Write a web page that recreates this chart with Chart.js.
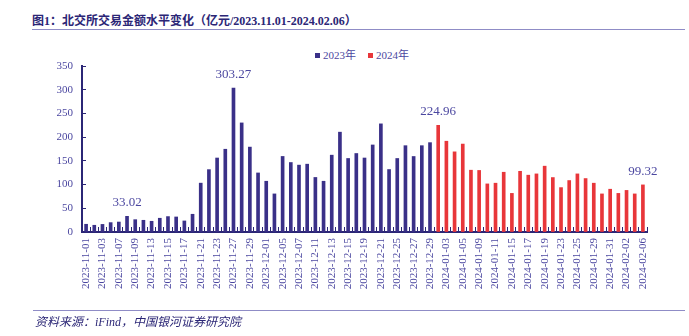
<!DOCTYPE html>
<html>
<head>
<meta charset="utf-8">
<script src="https://cdn.jsdelivr.net/npm/chart.js@4.4.0/dist/chart.umd.min.js"></script>
<style>
body{margin:0;background:#fff;width:689px;height:336px;position:relative;overflow:hidden;}
#title{position:absolute;left:32px;top:11px;font:bold 12px "Liberation Serif","Noto Sans CJK SC";color:#2b2676;white-space:nowrap;}
#topline{position:absolute;left:32px;width:653px;top:29px;height:1px;background:#8f8cc6;}
#botline{position:absolute;left:33px;width:652px;top:310px;height:1px;background:#8f8cc6;}
#source{position:absolute;left:35px;top:312px;font:italic 12px "Liberation Serif","Noto Sans CJK SC";color:#2b2676;white-space:nowrap;}
#legend{position:absolute;left:315px;top:46px;font:11px "Liberation Serif","Noto Sans CJK SC";color:#4b47a0;white-space:nowrap;}
#legend span.sq{display:inline-block;width:5px;height:5px;margin-right:3px;vertical-align:1px;}
#chart{position:absolute;left:0;top:0;}
</style>
</head>
<body>
<div id="title">图1：北交所交易金额水平变化（亿元/2023.11.01-2024.02.06）</div>
<div id="topline"></div>
<div id="legend"><span class="sq" style="background:#3a3088"></span>2023年<span class="sq" style="background:#e8363a;margin-left:12px"></span>2024年</div>
<canvas id="chart" width="689" height="336"></canvas>
<div id="botline"></div>
<div id="source">资料来源：iFind，中国银河证券研究院</div>
<script>
var dates2023 = ["2023-11-01","2023-11-02","2023-11-03","2023-11-06","2023-11-07","2023-11-08","2023-11-09","2023-11-10",
  "2023-11-13","2023-11-14","2023-11-15","2023-11-16","2023-11-17","2023-11-20","2023-11-21","2023-11-22","2023-11-23",
  "2023-11-24","2023-11-27","2023-11-28","2023-11-29","2023-11-30","2023-12-01","2023-12-04","2023-12-05","2023-12-06",
  "2023-12-07","2023-12-08","2023-12-11","2023-12-12","2023-12-13","2023-12-14","2023-12-15","2023-12-18","2023-12-19",
  "2023-12-20","2023-12-21","2023-12-22","2023-12-25","2023-12-26","2023-12-27","2023-12-28","2023-12-29"];
var values2023 = [16.3,14.2,16,19.8,21,33.02,26,24.7,22.6,29,32.5,31.7,23.3,37.4,103,131.5,156,174.5,303.27,230,179,124.5,
  107,80.3,159.3,146.5,141,143,115,107,162,210.5,155,165.5,156,183.5,228,131.7,155,182,159.2,182,188.4];
var dates2024 = ["2024-01-02","2024-01-03","2024-01-04","2024-01-05","2024-01-08","2024-01-09","2024-01-10","2024-01-11",
  "2024-01-12","2024-01-15","2024-01-16","2024-01-17","2024-01-18","2024-01-19","2024-01-22","2024-01-23","2024-01-24",
  "2024-01-25","2024-01-26","2024-01-29","2024-01-30","2024-01-31","2024-02-01","2024-02-02","2024-02-05","2024-02-06"];
var values2024 = [224.96,191.4,169,185.4,130.3,129.8,101.4,102.9,126,81.4,128,119.8,122.5,138.8,114.8,93.6,108.5,122.5,
  112.7,102.9,80.3,90.2,81.4,87.7,80.3,99.32];
// bars that carry a value label
var labelled = ["2023-11-08","2023-11-27","2024-01-02","2024-02-06"];

var labels = dates2023.concat(dates2024);
var set2023 = values2023.concat(dates2024.map(function(){ return null; }));
var set2024 = dates2023.map(function(){ return null; }).concat(values2024);

var navy = '#2b2676';
var tickColor = '#4b47a0';

var valueLabels = {
  id: 'valueLabels',
  afterDatasetsDraw: function(chart) {
    var ctx = chart.ctx;
    ctx.save();
    ctx.font = '13px "Liberation Serif"';
    ctx.fillStyle = '#4b47a0';
    ctx.textAlign = 'center';
    ctx.textBaseline = 'alphabetic';
    labelled.forEach(function(d) {
      var i = labels.indexOf(d);
      chart.data.datasets.forEach(function(ds, k) {
        if (ds.data[i] == null) return;
        var bar = chart.getDatasetMeta(k).data[i];
        ctx.fillText(ds.data[i].toFixed(2), bar.x, bar.y - 10);
      });
    });
    ctx.restore();
  }
};

new Chart(document.getElementById('chart').getContext('2d'), {
  type: 'bar',
  data: {
    labels: labels,
    datasets: [
      { label: '2023年', data: set2023, backgroundColor: '#3a3088', barThickness: 3, grouped: false },
      { label: '2024年', data: set2024, backgroundColor: '#e8363a', barThickness: 3, grouped: false }
    ]
  },
  options: {
    responsive: false,
    animation: false,
    layout: { padding: { top: 66, right: 42, left: 0, bottom: 0 } },
    plugins: { legend: { display: false }, tooltip: { enabled: false } },
    scales: {
      x: {
        afterFit: function(s) { s.height = 104; },
        border: { display: true, color: navy, width: 2 },
        grid: { drawOnChartArea: false, color: navy, tickLength: -5, lineWidth: 1 },
        ticks: {
          autoSkip: false, minRotation: 90, maxRotation: 90, padding: 11,
          color: tickColor, font: { family: 'Liberation Serif', size: 11 },
          callback: function(v, i) { return i % 2 === 0 ? labels[i] : ''; }
        }
      },
      y: {
        min: 0, max: 350,
        afterFit: function(s) { s.width = 82; },
        border: { display: true, color: navy, width: 2 },
        grid: { drawOnChartArea: false, color: navy, tickLength: -4, lineWidth: 1 },
        ticks: { stepSize: 50, padding: 13, color: tickColor, font: { family: 'Liberation Serif', size: 11 } }
      }
    }
  },
  plugins: [valueLabels]
});
</script>
</body>
</html>
